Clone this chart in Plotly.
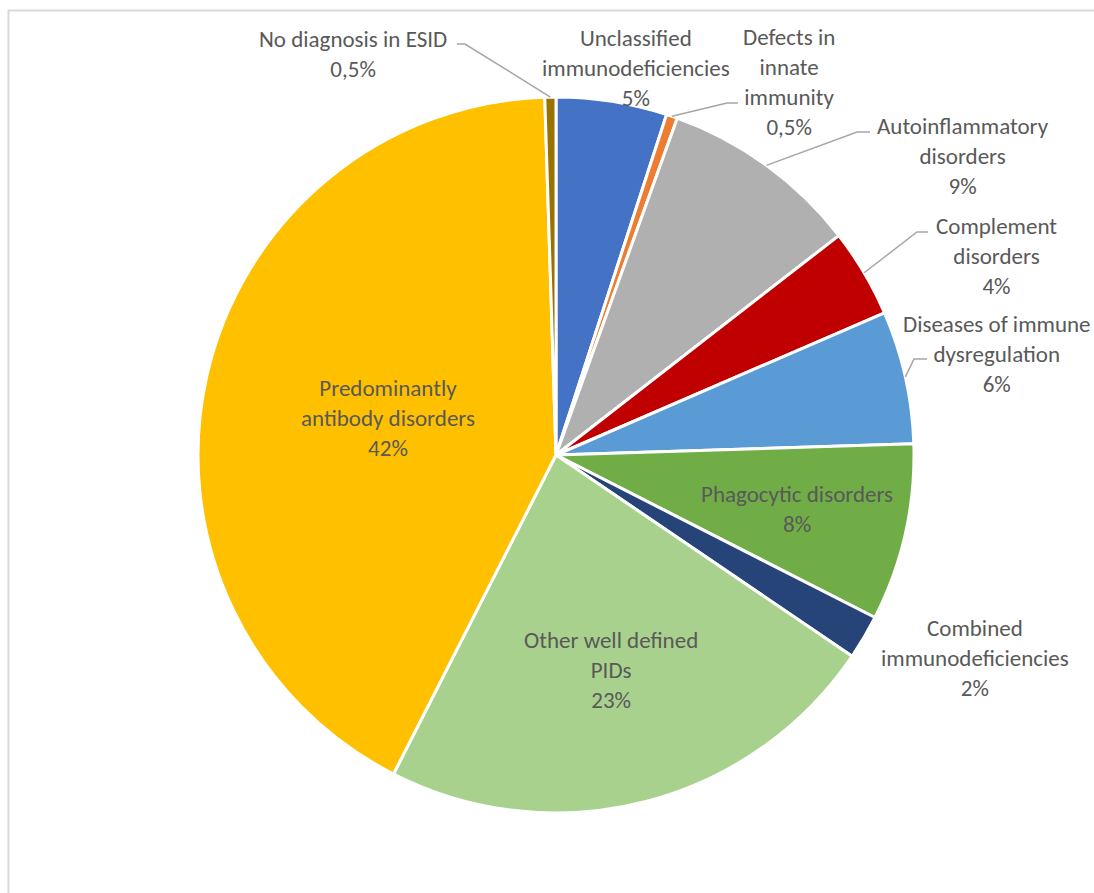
import math
import plotly.graph_objects as go

# Registry composition (share of patients, %), clockwise from 12 o'clock
categories = [
    "Unclassified immunodeficiencies",
    "Defects in innate immunity",
    "Autoinflammatory disorders",
    "Complement disorders",
    "Diseases of immune dysregulation",
    "Phagocytic disorders",
    "Combined immunodeficiencies",
    "Other well defined PIDs",
    "Predominantly antibody disorders",
    "No diagnosis in ESID",
]
shares = [5, 0.5, 9, 4, 6, 8, 2, 23, 42, 0.5]
label_lines = [
    "Unclassified<br>immunodeficiencies",
    "Defects in<br>innate<br>immunity",
    "Autoinflammatory<br>disorders",
    "Complement<br>disorders",
    "Diseases of immune<br>dysregulation",
    "Phagocytic disorders",
    "Combined<br>immunodeficiencies",
    "Other well defined<br>PIDs",
    "Predominantly<br>antibody disorders",
    "No diagnosis in ESID",
]
colors = ["#4472C4", "#ED7D31", "#B0B0B0", "#C00000", "#5B9BD5",
          "#70AD47", "#264478", "#A9D18E", "#FFC000", "#997300"]

# ---- layout (pixel units) ----
W, H = 1094, 893
CX, CY, R = 556, 455, 358
TEXT_COLOR = "#595959"
FONT = "Carlito, Lato, sans-serif"
FSIZE = 23

# inside labels: radial fraction along the slice mid-angle
inside = {
    "Predominantly antibody disorders": 0.48,
    "Other well defined PIDs": 0.62,
    "Phagocytic disorders": 0.69,
}
# outside labels: text centre, plus leader elbow/end points
outside = {
    "No diagnosis in ESID": ((353, 54), [(465, 44), (457, 44)]),
    "Unclassified immunodeficiencies": ((636, 68), None),
    "Defects in innate immunity": ((789, 82), [(727, 103), (738, 103)]),
    "Autoinflammatory disorders": ((963, 156), [(857, 132), (870, 132)]),
    "Complement disorders": ((996, 256), [(917, 232), (928, 232)]),
    "Diseases of immune dysregulation": ((997, 354), [(914, 359), (927, 359)]),
    "Combined immunodeficiencies": ((975, 658), None),
}


def px(x):
    return x / W


def py(y):
    return 1 - y / H


def fmt_pct(v):
    return f"{v:g}".replace(".", ",") + "%"


fig = go.Figure(go.Pie(
    labels=categories,
    values=shares,
    sort=False,
    direction="clockwise",
    rotation=0,
    marker=dict(colors=colors, line=dict(color="white", width=3)),
    textinfo="none",
    hoverinfo="label+percent",
    showlegend=False,
    domain=dict(x=[px(CX - R), px(CX + R)], y=[py(CY + R), py(CY - R)]),
))

total = sum(shares)
annotations = []
shapes = []
acc = 0.0
for name, v, txt in zip(categories, shares, label_lines):
    mid = (acc + v / 2) / total * 2 * math.pi
    acc += v
    label = f"{txt}<br>{fmt_pct(v)}"
    if name in inside:
        f = inside[name]
        lx = CX + f * R * math.sin(mid)
        ly = CY - f * R * math.cos(mid)
    else:
        (lx, ly), leader = outside[name]
        if leader:
            sx = CX + R * math.sin(mid)
            sy = CY - R * math.cos(mid)
            pts = [(sx, sy)] + leader
            path = "M " + " L ".join(f"{px(a)},{py(b)}" for a, b in pts)
            shapes.append(dict(type="path", xref="paper", yref="paper", path=path,
                               line=dict(color="#A6A6A6", width=1.5)))
    annotations.append(dict(
        x=px(lx), y=py(ly), xref="paper", yref="paper", text=label,
        showarrow=False, xanchor="center", yanchor="middle", align="center",
        font=dict(family=FONT, size=FSIZE, color=TEXT_COLOR),
    ))

# chart-area frame
shapes.append(dict(type="rect", xref="paper", yref="paper",
                   x0=px(8.5), x1=1.2, y0=-0.2, y1=py(10.5),
                   line=dict(color="#D9D9D9", width=2), layer="below"))

fig.update_layout(
    width=W, height=H,
    margin=dict(l=0, r=0, t=0, b=0),
    paper_bgcolor="white",
    plot_bgcolor="white",
    annotations=annotations,
    shapes=shapes,
)

fig.write_html("out.html")
